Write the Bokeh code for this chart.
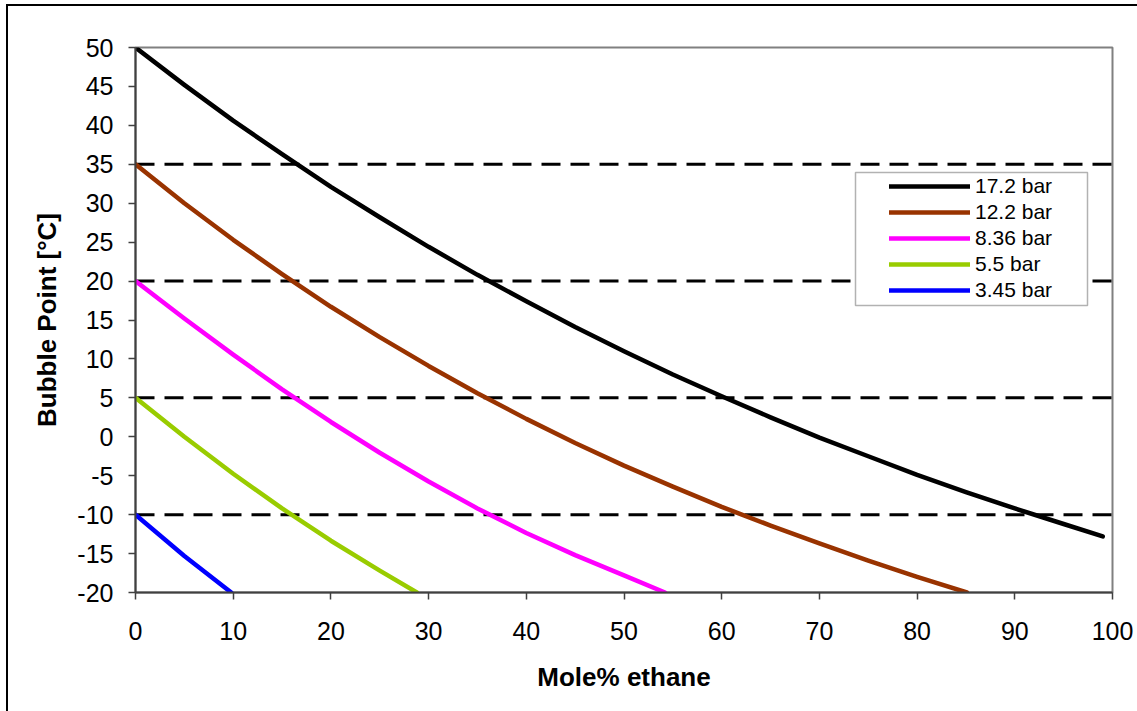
from bokeh.plotting import figure
from bokeh.layouts import column
from bokeh.models import Span, Legend, LegendItem, BoxAnnotation, FixedTicker
from bokeh.embed import file_html
from bokeh.resources import INLINE

# Bubble point temperature vs. ethane content, one curve per pressure
x_172 = [0, 5, 10, 15, 20, 25, 30, 35, 40, 45, 50, 55, 60, 65, 70, 75, 80, 85, 90, 95, 99]
t_172 = [50, 45.2, 40.6, 36.3, 32.1, 28.2, 24.4, 20.8, 17.4, 14.1, 11.0, 8.0, 5.2, 2.5,
         -0.1, -2.5, -4.9, -7.1, -9.2, -11.2, -12.8]

x_122 = [0, 5, 10, 15, 20, 25, 30, 35, 40, 45, 50, 55, 60, 65, 70, 75, 80, 85.1]
t_122 = [35, 30.0, 25.3, 20.9, 16.7, 12.8, 9.1, 5.6, 2.3, -0.8, -3.7, -6.4, -9.0, -11.4,
         -13.7, -15.9, -18.0, -20]

x_836 = [0, 5, 10, 15, 20, 25, 30, 35, 40, 45, 50, 54.2]
t_836 = [20, 15.2, 10.55, 6.1, 1.9, -2.05, -5.75, -9.2, -12.35, -15.2, -17.8, -20]

x_55 = [0, 5, 10, 15, 20, 25, 28.8]
t_55 = [5, 0.0, -4.75, -9.2, -13.35, -17.2, -20]

x_345 = [0, 5, 9.8]
t_345 = [-10, -15.3, -20]

series_labels = ["17.2 bar", "12.2 bar", "8.36 bar", "5.5 bar", "3.45 bar"]
series_colors = ["#000000", "#993300", "#FF00FF", "#99CC00", "#0000FF"]

# Horizontal reference temperatures
ref_temps = [35, 20, 5, -10]

x_ticks = [0, 10, 20, 30, 40, 50, 60, 70, 80, 90, 100]
y_ticks = [-20, -15, -10, -5, 0, 5, 10, 15, 20, 25, 30, 35, 40, 45, 50]

FONT = "Liberation Sans"

p = figure(width=1129, height=705, x_range=(0, 100), y_range=(-20, 50),
           output_backend="svg", toolbar_location=None,
           min_border_left=127, min_border_right=25,
           min_border_top=41, min_border_bottom=119)

p.background_fill_color = "white"
p.border_fill_color = "white"
p.grid.visible = False
p.outline_line_color = "#808080"
p.outline_line_width = 2

for ax, ticks in ((p.xaxis, x_ticks), (p.yaxis, y_ticks)):
    ax.ticker = FixedTicker(ticks=ticks)
    ax.major_label_overrides = {v: str(v) for v in ticks}
    ax.major_tick_in = 0
    ax.major_tick_out = 7
    ax.minor_tick_in = 0
    ax.minor_tick_out = 0
    ax.axis_line_color = "#404040"
    ax.axis_line_width = 2
    ax.major_tick_line_color = "#404040"
    ax.major_tick_line_width = 1.5
    ax.major_label_text_font = FONT
    ax.major_label_text_font_size = "25px"
    ax.major_label_text_color = "black"
    ax.axis_label_text_font = FONT
    ax.axis_label_text_font_size = "26px"
    ax.axis_label_text_font_style = "bold"
    ax.axis_label_text_color = "black"

p.xaxis.axis_label = "Mole% ethane"
p.yaxis.axis_label = "Bubble Point [°C]"
p.xaxis.major_label_standoff = 22
p.xaxis.axis_label_standoff = 19
p.yaxis.major_label_standoff = 15
p.yaxis.axis_label_standoff = 12

for t in ref_temps:
    p.add_layout(Span(location=t, dimension="width", line_color="black",
                      line_width=3, line_dash="19 10", level="underlay"))

renderers = []
for xs, ys, c in zip([x_172, x_122, x_836, x_55, x_345],
                     [t_172, t_122, t_836, t_55, t_345], series_colors):
    r = p.line(xs, ys, line_color=c, line_width=4.5,
               line_join="round", line_cap="round")
    renderers.append(r)

# Legend frame with white fill, then the legend entries on top
p.add_layout(BoxAnnotation(left=847, right=1079, top=166, bottom=299,
                           left_units="canvas", right_units="canvas",
                           top_units="canvas", bottom_units="canvas",
                           fill_color="white", fill_alpha=1,
                           line_color="black", line_width=1.5))

legend = Legend(items=[LegendItem(label=lab, renderers=[r])
                       for lab, r in zip(series_labels, renderers)],
                location=(754, 289), padding=0, spacing=0, margin=0,
                glyph_width=81, glyph_height=26, label_height=26,
                label_standoff=5, label_text_font=FONT,
                label_text_font_size="21px", label_text_color="black",
                border_line_alpha=0, background_fill_alpha=0)
p.add_layout(legend)

# Chart area border (left and top edges visible)
root = column(p, margin=(4, 0, 0, 6),
              styles={"border-left": "2px solid black",
                      "border-top": "2px solid black"})

open("out.html", "w").write(file_html(root, INLINE))
